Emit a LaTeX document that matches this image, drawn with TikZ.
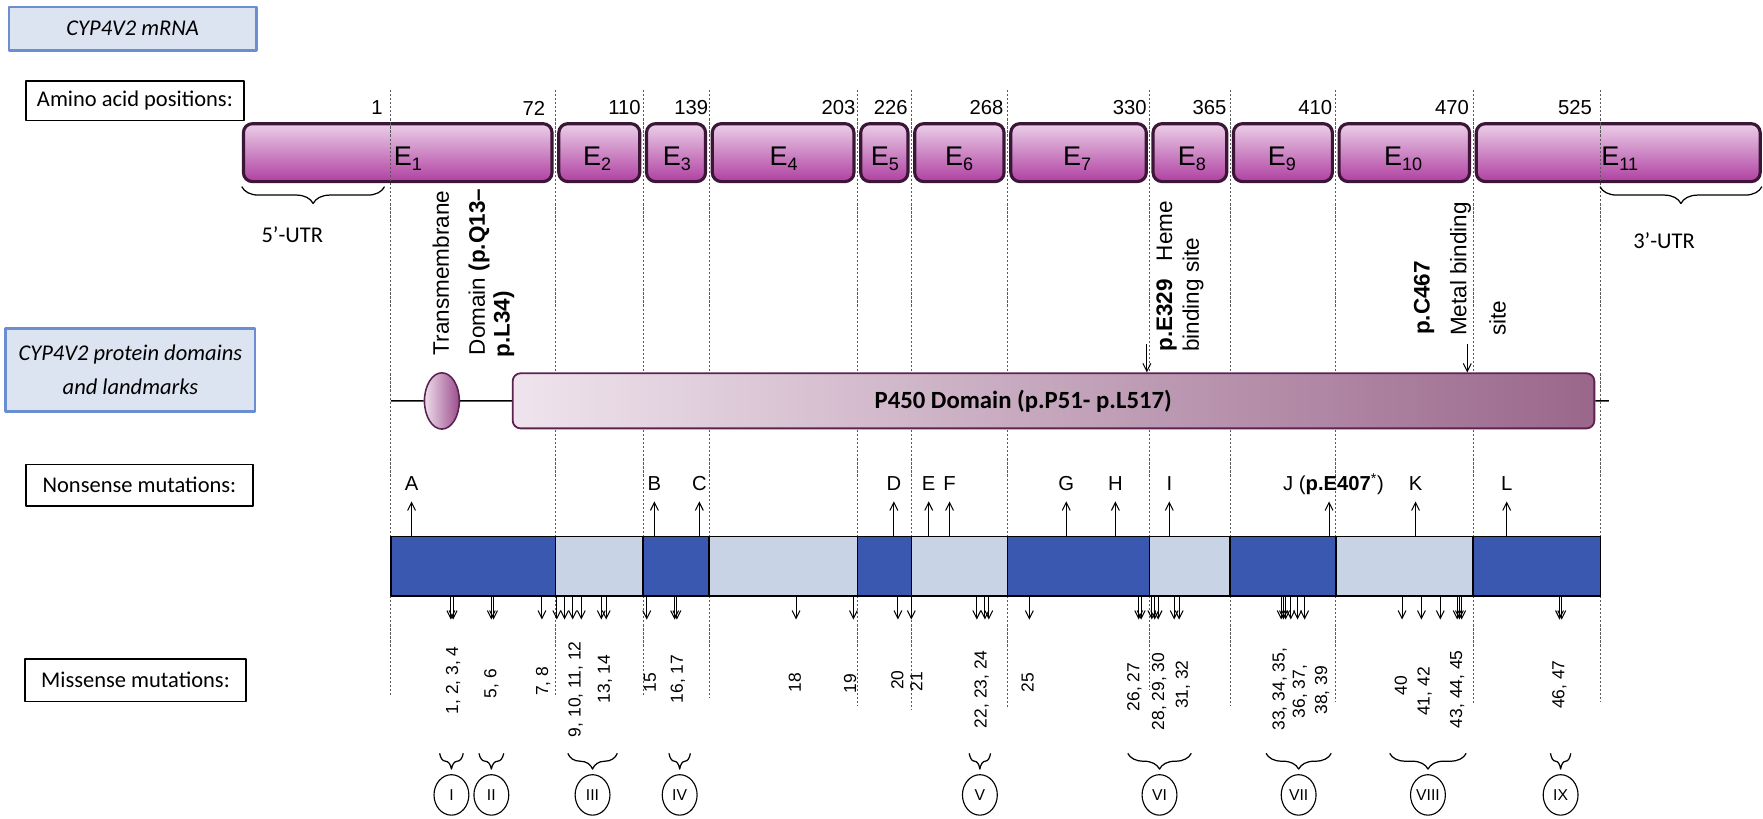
\documentclass[tikz,border=0pt]{standalone}
\usepackage{fontspec}
\setmainfont{Liberation Sans}
\newfontfamily\carl{Carlito}
\usetikzlibrary{arrows.meta,decorations.pathreplacing,shapes.geometric}
\definecolor{exlight}{HTML}{EBCFE8}
\definecolor{exdark}{HTML}{B040A2}
\definecolor{exedge}{HTML}{3B1636}
\definecolor{lblfill}{HTML}{DCE4F2}
\definecolor{lbledge}{HTML}{6A8ED2}
\definecolor{domleft}{HTML}{EFE4ED}
\definecolor{domright}{HTML}{9A678B}
\definecolor{domedge}{HTML}{5C2352}
\definecolor{tmleft}{HTML}{EEDCEB}
\definecolor{tmright}{HTML}{9B4E8C}
\definecolor{ntdark}{HTML}{3A58AF}
\definecolor{ntpale}{HTML}{C8D4E6}
\newcommand{\exlab}[1]{E\raisebox{-4.5pt}{\fontsize{16}{16}\selectfont#1}}

\begin{document}
\begin{tikzpicture}[x=1pt,y=-1pt,line join=round,
	titlebox/.style={draw=lbledge,line width=2.2pt,fill=lblfill,inner sep=0pt,align=center,font=\carl\itshape\fontsize{20}{30}\selectfont},
	rowbox/.style={draw,line width=1.4pt,inner sep=0pt,font=\carl\fontsize{20}{24}\selectfont},
	exon/.style={draw=exedge,line width=2.8pt,rounded corners=8pt,top color=exlight,bottom color=exdark},
	exname/.style={inner sep=0pt,font=\fontsize{24}{24}\selectfont},
	guide/.style={black!65,line width=0.7pt,dash pattern=on 2pt off 1.6pt},
	mut/.style={line width=0.9pt,-{Straight Barb[length=7pt,width=7pt]}},
	vlab/.style={rotate=90,anchor=west,inner sep=0pt,font=\fontsize{20}{24}\selectfont},
	mislab/.style={rotate=90,inner sep=0pt,font=\fontsize{15.5}{18}\selectfont},
	nonlab/.style={anchor=south,inner xsep=0pt,inner ysep=9.5pt,text depth=0pt,font=\fontsize{18}{20}\selectfont},
	utr/.style={decorate,decoration={brace,mirror,amplitude=15pt},line width=1.1pt},
	grp/.style={decorate,decoration={brace,mirror,amplitude=14pt},line width=1.1pt},
	roman/.style={ellipse,draw,line width=1pt,minimum width=31pt,minimum height=36pt,inner sep=0pt,font=\fontsize{14}{14}\selectfont}]
	\useasboundingbox (0,0) rectangle (1568,728);
	\node[titlebox,minimum width=220pt,minimum height=39pt] (mrna) at (118,25.5) {CYP4V2 mRNA};
	\node[titlebox,minimum width=222pt,minimum height=74pt] (prot) at (116,329) {CYP4V2 protein domains\\and landmarks};
	\node[rowbox,minimum width=194pt,minimum height=35pt] (aa) at (120,89.5) {Amino acid positions:};
	\node[rowbox,minimum width=202pt,minimum height=37pt] (ns) at (124,431.5) {Nonsense mutations:};
	\node[rowbox,minimum width=197pt,minimum height=38pt] (ms) at (120.5,605) {Missense mutations:};
	\foreach \a/\b in {216.5/491,497/569,575/627.5,633.5/759.5,765.5/807.5,813.5/893,899/1019.5,1025.5/1091,1097/1185,1191/1307,1313/1565.5}
		\draw[exon] (\a,110) rectangle (\b,161.5);
	\node[exname,anchor=base west] (e1) at (350,147.5) {\exlab{1}};
	\foreach \x/\n in {531/2,602/3,697/4,787/5,853/6,958/7,1060/8,1140/9,1248/10}
		\node[exname,anchor=base] (e\n) at (\x,147.5) {\exlab{\n}};
	\node[exname,anchor=base west] (e11) at (1424,147.5) {\exlab{11}};
	\foreach \x/\e in {347.6/619,494/620,572/618,630.5/621,762.5/628,810.5/631,896/630,1022.5/614,1094/628,1188/624,1310/627,1423.5/624}
		\draw[guide] (\x,80) -- (\x,\e);
	\foreach \x/\t in {340.5/1,485/72,570/110,630/139,761/203,807.5/226,892.5/268,1020/330,1091/365,1185/410,1306.5/470,1416/525}
		\node[anchor=east,inner sep=0pt,font=\fontsize{18}{18}\selectfont] (n\t) at (\x,96) {\t};
	\draw[utr] (215,166) -- (342,166);
	\node[font=\carl\fontsize{20}{20}\selectfont] (u5) at (260,209) {5’-UTR};
	\draw[utr] (1423,166) -- (1567,166);
	\node[font=\carl\fontsize{20}{20}\selectfont] (u3) at (1480,214) {3’-UTR};
	\node[vlab] (tm1) at (392,316) {Transmembrane};
	\node[vlab] (tm2) at (426,316) {Domain \textbf{(p.Q13–}};
	\node[vlab] (tm3) at (448,318) {\textbf{p.L34)}};
	\node[vlab] (hm1) at (1037.5,313) {\textbf{p.E329}\hspace{16pt}Heme};
	\node[vlab] (hm2) at (1061,313) {binding site};
	\node[vlab] (mt1) at (1266.5,298) {\textbf{p.C467}};
	\node[vlab] (mt2) at (1299,299) {Metal binding};
	\node[vlab] (mt3) at (1332,299) {site};
	\coordinate (pl) at (347.6,356.5);
	\coordinate (pr) at (1431,356.5);
	\node[draw=domedge,line width=1.6pt,rounded corners=7pt,left color=domleft,right color=domright,minimum width=962pt,minimum height=49pt,inner sep=0pt] (dom) at (937,356.5) {};
	\node[ellipse,draw=domedge,line width=1.4pt,left color=tmleft,right color=tmright,minimum width=31pt,minimum height=50pt,inner sep=0pt] (tmd) at (393,356.6) {};
	\draw[line width=1.4pt] (pl) -- (tmd) -- (dom) -- (pr);
	\node[font=\carl\bfseries\fontsize{22}{22}\selectfont] (dtxt) at (910,356.5) {P450 Domain (p.P51- p.L517)};
	\coordinate (ha) at (1020,306);
	\coordinate (ma) at (1305,306);
	\draw[mut] (ha) -- (ha |- dom.north);
	\draw[mut] (ma) -- (ma |- dom.north);
	\foreach \a/\b/\c in {347.6/494/ntdark,494/572/ntpale,572/630.5/ntdark,630.5/762.5/ntpale,762.5/810.5/ntdark,810.5/896/ntpale,896/1022.5/ntdark,1022.5/1094/ntpale,1094/1188/ntdark,1188/1310/ntpale,1310/1423.5/ntdark}
		\draw[line width=1.4pt,fill=\c] (\a,477) rectangle (\b,530);
	\foreach \x/\t in {366/A,582/B,622/C,795/D,826/E,844.5/F,948.3/G,992/H,1040/I,1259/K,1340/L}
	{\node[nonlab] (x\t) at (\x,446) {\t};
		\draw[mut] (\x,477) -- (x\t);}
	\node[nonlab] (xJ) at (1186,446) {J (\textbf{p.E407}\textsuperscript{*})};
	\coordinate (jb) at (1182,477);
	\draw[mut] (jb) -- (jb |- xJ.south);
	\foreach \x in {401,403,437,439,482,495.2,502.1,509.3,517,534.8,539.1,575.2,600,602,708,759,798.6,810.5,868.8,876,879.4,915.5,1012.7,1014.9,1024.4,1027,1030,1044.3,1048.7,1139.5,1141.5,1143.5,1148,1154,1160.3,1247,1264.2,1281,1296,1298,1300,1387,1389}
		\draw[mut] (\x,530) -- (\x,551);
	\foreach \x/\y/\t [count=\i] in {403/605/{1, 2, 3, 4},437/608/{5, 6},483/606/{7, 8},512/613/{9, 10, 11, 12},538/604/{13, 14},578/607/15,603/604/{16, 17},707/607/18,756/608/19,798/605/20,815/606/21,873/613/{22, 23, 24},914/607/25,1009/611/{26, 27},1031/615/{28, 29, 30},1052/609/{31, 32},1138/613/{33, 34, 35,},1156/615/{36, 37,},1176/614/{38, 39},1246/610/40,1267/615/{41, 42},1296/613/{43, 44, 45},1387/609/{46, 47}}
		\node[mislab] (m\i) at (\x,\y) {\t};
	\foreach \a/\b/\r in {391/412/I,426/448/II,505/549/III,595/614/IV,862/881/V,1003/1059.5/VI,1126/1184/VII,1236/1304/VIII,1379/1397/IX}
	{\draw[grp] (\a,670) -- (\b,670);
		\node[roman] (g\r) at ({(\a+\b)/2},707) {\r};}
\end{tikzpicture}
\end{document}
